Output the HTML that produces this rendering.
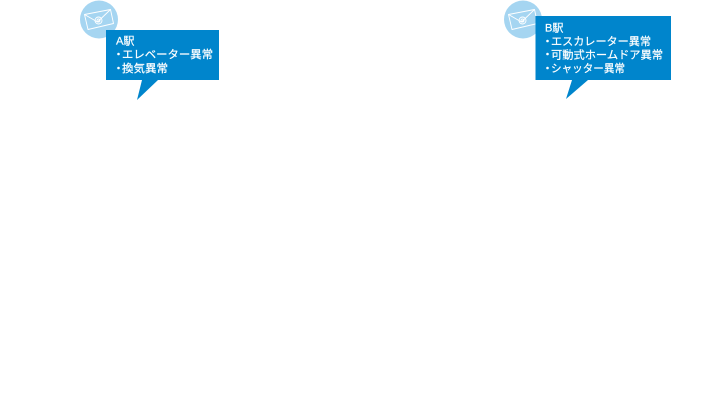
<!DOCTYPE html>
<html lang="ja">
<head>
<meta charset="utf-8">
<style>
html,body{margin:0;padding:0;background:#fff;}
body{width:714px;height:415px;overflow:hidden;position:relative;}
svg{position:absolute;left:0;top:0;}
text{font-family:"Liberation Sans","Noto Sans CJK JP",sans-serif;font-size:11px;fill:#fff;stroke:#fff;stroke-width:0.2px;}
</style>
</head>
<body>
<svg width="714" height="415" viewBox="0 0 714 415" xmlns="http://www.w3.org/2000/svg">
  <!-- A -->
  <circle cx="99" cy="19.500" r="19" fill="#a5d5f1"/>
  <g fill="none" stroke="#fff" stroke-width="0.9" stroke-linejoin="round">
    <path d="M84.500 14.500 L110.500 9.500 L113.500 23.500 L88 29.500 Z"/>
    <path d="M84.500 14.500 L97.500 22 L110.500 9.500"/>
    <circle cx="98.500" cy="20.500" r="3.500"/>
    <circle cx="98.500" cy="20.500" r="1.500"/>
  </g>
  <rect x="106" y="30" width="113" height="50" fill="#0085cc"/>
  <path d="M142 80 L137 100 L158 80 Z" fill="#0085cc"/>
  <text x="116" y="44.500">A駅</text>
  <circle cx="118.500" cy="54" r="1.300" fill="#fff"/>
  <text x="122" y="58" textLength="91" lengthAdjust="spacingAndGlyphs">エレベーター異常</text>
  <circle cx="118.500" cy="68" r="1.300" fill="#fff"/>
  <text x="122" y="72" textLength="46" lengthAdjust="spacingAndGlyphs">換気異常</text>
  <!-- B -->
  <circle cx="523" cy="19.500" r="19" fill="#a5d5f1"/>
  <g fill="none" stroke="#fff" stroke-width="0.9" stroke-linejoin="round">
    <path d="M508.500 14.500 L534.500 9.500 L537.500 23.500 L512 29.500 Z"/>
    <path d="M508.500 14.500 L521.500 22 L534.500 9.500"/>
    <circle cx="522.500" cy="20.500" r="3.500"/>
    <circle cx="522.500" cy="20.500" r="1.500"/>
  </g>
  <rect x="535.500" y="16" width="135.500" height="64" fill="#0085cc"/>
  <path d="M572 80 L566 99 L588 80 Z" fill="#0085cc"/>
  <text x="545" y="31.500">B駅</text>
  <circle cx="547.500" cy="41" r="1.300" fill="#fff"/>
  <text x="551" y="45" textLength="100" lengthAdjust="spacingAndGlyphs">エスカレーター異常</text>
  <circle cx="547.500" cy="54" r="1.300" fill="#fff"/>
  <text x="551" y="58.500" textLength="112" lengthAdjust="spacingAndGlyphs">可動式ホームドア異常</text>
  <circle cx="547.500" cy="68" r="1.300" fill="#fff"/>
  <text x="551" y="72" textLength="74" lengthAdjust="spacingAndGlyphs">シャッター異常</text>
</svg>
</body>
</html>
